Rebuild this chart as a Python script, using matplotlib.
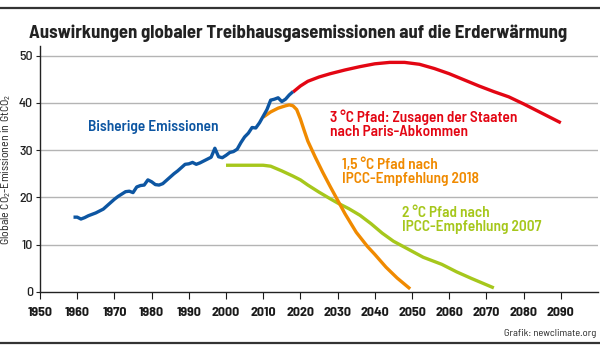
import matplotlib.pyplot as plt
from matplotlib.lines import Line2D

plt.rcParams['font.family'] = ['Barlow Semi Condensed', 'DejaVu Sans']
plt.rcParams['mathtext.default'] = 'regular'

# Bisherige Emissionen (GtCO2)
hist_years = [1959, 1960, 1961, 1962, 1963, 1964, 1965, 1966, 1967, 1968, 1969,
              1970, 1971, 1972, 1973, 1974, 1975, 1976, 1977, 1978, 1979,
              1980, 1981, 1982, 1983, 1984, 1985, 1986, 1987, 1988, 1989,
              1990, 1991, 1992, 1993, 1994, 1995, 1996, 1997, 1998, 1999,
              2000, 2001, 2002, 2003, 2004, 2005, 2006, 2007, 2008, 2009,
              2010, 2011, 2012, 2013, 2014, 2015, 2016, 2017, 2018]
hist_vals = [15.8, 15.8, 15.4, 15.7, 16.1, 16.4, 16.7, 17.1, 17.5, 18.2, 18.9,
             19.6, 20.2, 20.7, 21.2, 21.3, 21.0, 22.2, 22.5, 22.6, 23.7,
             23.3, 22.7, 22.6, 22.9, 23.6, 24.3, 25.0, 25.6, 26.3, 27.0,
             27.1, 27.4, 27.0, 27.3, 27.7, 28.1, 28.5, 30.4, 28.6, 28.4,
             28.9, 29.5, 29.7, 30.2, 31.6, 32.8, 33.6, 34.8, 34.7, 35.8,
             37.2, 38.6, 40.6, 40.8, 41.1, 40.3, 40.8, 41.7, 42.4]

# 3 °C Pfad
red_years = [2018, 2020, 2022, 2025, 2028, 2032, 2036, 2040, 2044, 2048, 2052,
             2056, 2060, 2064, 2068, 2072, 2076, 2080, 2084, 2087, 2090]
red_vals = [42.3, 43.6, 44.6, 45.5, 46.2, 47.0, 47.7, 48.3, 48.6, 48.6, 48.2,
            47.3, 46.2, 44.9, 43.6, 42.4, 41.3, 39.8, 38.2, 37.0, 35.8]

# 1,5 °C Pfad
orange_years = [2010, 2012, 2014, 2016, 2017, 2018, 2019, 2020, 2021, 2022, 2024,
                2026, 2028, 2030, 2032, 2035, 2038, 2040, 2043, 2046, 2049.5]
orange_vals = [37.0, 38.1, 38.9, 39.4, 39.6, 39.4, 38.6, 36.6, 34.2, 31.9, 28.5,
               25.3, 22.3, 19.4, 16.5, 12.6, 9.6, 7.9, 5.2, 2.9, 0.6]

# 2 °C Pfad
green_years = [2000, 2005, 2010, 2012, 2015, 2018, 2020, 2022, 2025, 2028, 2030,
               2033, 2036, 2039, 2042, 2045, 2049, 2053, 2058, 2062, 2066, 2072]
green_vals = [26.8, 26.8, 26.8, 26.6, 25.6, 24.5, 23.7, 22.6, 21.1, 19.7, 18.8,
              17.6, 16.2, 14.4, 12.4, 10.7, 9.0, 7.3, 5.8, 4.2, 2.8, 0.8]

blue = '#0d56a2'
red = '#e30613'
orange = '#f08a00'
green = '#a6c71c'

fig = plt.figure(figsize=(6, 3.48), dpi=100)
ax = fig.add_axes([0.0667, 0.1618, 0.93, 0.705])

for v in range(10, 51, 10):
    ax.axhline(v, color='#b4b4b4', lw=1.0, zorder=0)

ax.plot(green_years, green_vals, color=green, lw=2.4, solid_capstyle='butt', zorder=2)
ax.plot(orange_years, orange_vals, color=orange, lw=2.4, solid_capstyle='butt', zorder=3)
ax.plot(red_years, red_vals, color=red, lw=2.4, solid_capstyle='butt', zorder=3)
ax.plot(hist_years, hist_vals, color=blue, lw=2.4, solid_capstyle='butt', zorder=4)

ax.set_xlim(1950, 2100)
ax.set_ylim(0, 52)
ax.set_xticks(range(1950, 2091, 10))
ax.set_yticks(range(0, 51, 10))
ax.tick_params(axis='x', direction='out', length=5, width=0.8, pad=6,
               labelsize=10, colors='#1a1a1a')
ax.tick_params(axis='y', direction='out', length=3, width=0.8, pad=2,
               labelsize=10, colors='#222222')
for lab in ax.get_xticklabels():
    lab.set_fontweight('bold')
for lab in ax.get_yticklabels():
    lab.set_fontweight('medium')
for s in ['top', 'right']:
    ax.spines[s].set_visible(False)
ax.spines['left'].set_color('#222222')
ax.spines['bottom'].set_color('#222222')
ax.spines['left'].set_linewidth(1.0)
ax.spines['bottom'].set_linewidth(1.0)

ax.set_ylabel('Globale CO$_2$-Emissionen in GtCO$_2$', fontsize=8.5,
              color='#222222', labelpad=4)

ax.text(1963, 35, 'Bisherige Emissionen', color=blue, fontsize=11,
        fontweight='semibold', va='center', ha='left')
ax.text(2028, 35.5, '3 °C Pfad: Zusagen der Staaten\nnach Paris-Abkommen',
        color=red, fontsize=11, fontweight='semibold', va='center', ha='left',
        linespacing=1.0)
ax.text(2031.3, 25.4, '1,5 °C Pfad nach\nIPCC-Empfehlung 2018', color=orange,
        fontsize=11, fontweight='semibold', va='center', ha='left', linespacing=1.0)
ax.text(2047.2, 15.3, '2 °C Pfad nach\nIPCC-Empfehlung 2007', color=green,
        fontsize=11, fontweight='semibold', va='center', ha='left', linespacing=1.0)

fig.text(0.497, 0.905, 'Auswirkungen globaler Treibhausgasemissionen auf die Erderwärmung',
         ha='center', va='center', fontsize=13.5, fontweight='bold', color='#222222')
fig.text(0.993, 0.043, 'Grafik: newclimate.org', ha='right', va='center',
         fontsize=7.5, color='#222222')

fig.add_artist(Line2D([0, 1], [0.977, 0.977], color='#333333', lw=1.6))
fig.add_artist(Line2D([0, 1], [0.014, 0.014], color='#333333', lw=1.6))

fig.savefig('out.png', dpi=100)
